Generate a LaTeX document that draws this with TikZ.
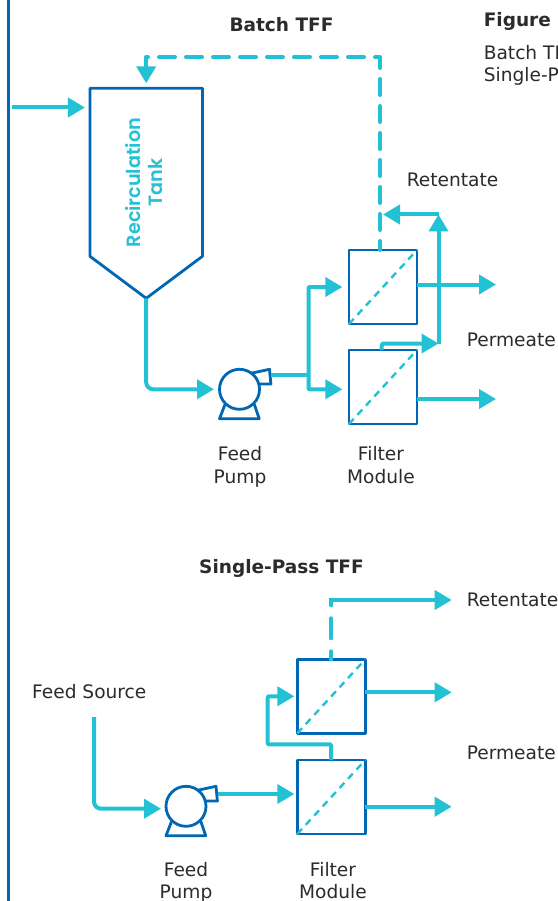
\documentclass[tikz,border=0pt]{standalone}
\usepackage{fontspec}
\setmainfont{DejaVu Sans}
\newfontfamily\tankfont{Poppins SemiBold}
\usetikzlibrary{arrows.meta,calc}
\definecolor{flow}{HTML}{22C1D3}
\definecolor{equip}{HTML}{0067B5}
\definecolor{ink}{HTML}{2B2B2B}
\newcommand{\pumpbody}[1]{%
  \begin{scope}[shift={(#1.center)}]
    \draw[equipline] (11.4,-16) -- (30,-20) -- (31.4,-5.3) -- (19,-5.3);
    \draw[equipline] (-14.3,14.7) -- (-20,29.4) -- (19.7,29.4) -- (14.7,14.7);
  \end{scope}}
\tikzset{
  equipline/.style={draw=equip,line width=2.8pt,line join=round},
  pipe/.style={draw=flow,line width=4pt,line join=round},
  arrowpipe/.style={pipe,-{Triangle[length=17pt,width=19pt]}},
  dashpipe/.style={pipe,dash pattern=on 16pt off 11pt,dash phase=7pt,line cap=round},
  filterbox/.style={equipline,rectangle,minimum width=68pt,minimum height=74pt,inner sep=0pt,outer sep=0pt},
  pumpcirc/.style={equipline,circle,minimum size=40pt,inner sep=0pt,outer sep=0pt},
  tankbox/.style={rectangle,minimum width=112.5pt,minimum height=210pt,inner sep=0pt,outer sep=0pt},
  membrane/.style={draw=flow,line width=2.4pt,dash pattern=on 7pt off 5.5pt},
  txt/.style={font=\fontsize{18.6}{22.5}\selectfont,text=ink,inner sep=0pt},
  boldtxt/.style={txt,font=\fontsize{18.5}{22.5}\selectfont\bfseries}
}
\begin{document}
\begin{tikzpicture}[x=1pt,y=-1pt]
\useasboundingbox (0,0) rectangle (557,901);
\clip (0,0) rectangle (557,901);
\fill[white] (0,0) rectangle (557,901);
\coordinate (frameT) at (8.5,0);
\coordinate (frameB) at (8.5,901);
\draw[draw=equip,line width=2.8pt] (frameT) -- (frameB);

% Batch TFF equipment
\node[tankbox] (tank) at (146.2,193.3) {};
\draw[equipline] (tank.north west) -- (tank.north east) -- ($(tank.south east)+(0,-42)$) -- (tank.south) -- ($(tank.south west)+(0,-42)$) -- cycle;
\node[rotate=90,align=center,text=flow,inner sep=0pt,font=\tankfont\fontsize{19.2}{22.5}\selectfont] (tanklabel) at (144.2,182.5) {Recirculation\\Tank};
\node[pumpcirc] (pumpA) at (239.5,389.3) {};
\pumpbody{pumpA}
\node[filterbox] (filA) at (383,287) {};
\node[filterbox] (filB) at (383,387) {};
\draw[membrane] (filA.south west) -- (filA.north east);
\draw[membrane] (filB.south west) -- (filB.north east);

% Batch TFF connectors
\coordinate (inA) at (12,107.5);
\coordinate (topA) at (380,57);
\coordinate (pumpoutA) at (271,375);
\coordinate (splitA) at (308.5,375);
\coordinate (outA1) at (496,284.5);
\coordinate (outA2) at (496,399);
\coordinate (riseA) at (438.5,343.5);
\coordinate (retA) at (438.5,214.5);
\draw[arrowpipe,shorten >=5pt] (inA) -- (inA -| tank.west);
\draw[dashpipe,-{Triangle[length=17pt,width=19pt]},shorten >=5pt] (topA |- filA.north) -- (topA) -| (tank.north);
\draw[arrowpipe,rounded corners=7pt,shorten >=5.5pt] (tank.south) |- (pumpA.west);
\draw[pipe] (pumpoutA) -- (splitA);
\draw[arrowpipe,rounded corners=1pt,shorten >=6.7pt] (splitA) |- (filA.west);
\draw[arrowpipe,rounded corners=1pt,shorten >=6.7pt] (splitA) |- (filB.west |- pumpA.center);
\draw[arrowpipe] (filA.east |- outA1) -- (outA1);
\draw[arrowpipe] (filB.east |- outA2) -- (outA2);
\draw[arrowpipe,rounded corners=2pt] (381.7,350) |- (riseA);
\draw[arrowpipe] (riseA) -- (retA);
\draw[arrowpipe,shorten >=-0.5pt] (retA) -- (383.5,214.5);

% Single-Pass TFF equipment
\node[pumpcirc] (pumpB) at (186,806.3) {};
\pumpbody{pumpB}
\node[filterbox] (filC) at (331.3,696.3) {};
\node[filterbox] (filD) at (331.3,797) {};
\draw[membrane] (filC.south west) -- (filC.north east);
\draw[membrane] (filD.south west) -- (filD.north east);

% Single-Pass TFF connectors
\coordinate (srcB) at (94,717);
\coordinate (retB) at (451.7,600);
\coordinate (bendB) at (331,600);
\coordinate (linkB) at (267.7,744.3);
\coordinate (pumpoutB) at (218,794);
\draw[arrowpipe,rounded corners=7pt,shorten >=5pt] (srcB) |- (pumpB.west |- 0,808.7);
\draw[arrowpipe,shorten >=3pt] (pumpoutB) -- (filD.west |- pumpoutB);
\coordinate (outB1) at (451.7,692.3);
\coordinate (outB2) at (451.7,806.7);
\draw[arrowpipe] (filC.east |- outB1) -- (outB1);
\draw[arrowpipe] (filD.east |- outB2) -- (outB2);
\draw[pipe,line cap=round,dash pattern=on 8pt off 13pt on 20pt off 13pt] (bendB |- filC.north) -- (bendB);
\draw[arrowpipe] ($(bendB)+(-2,0)$) -- (retB);
\draw[pipe,rounded corners=1pt,-{Triangle[length=17pt,width=19pt]},shorten >=3pt] (bendB |- filD.north) |- (linkB) |- (filC.west);

% Labels
\node[boldtxt,anchor=base] (titleA) at (281.5,31.3) {Batch TFF};
\node[boldtxt,anchor=base west] (figure) at (483.6,26.3) {Figure};
\node[txt,anchor=base west] (caption1) at (483.6,59.6) {Batch TFF};
\node[txt,anchor=base west] (caption2) at (483.6,81.3) {Single-Pass};
\node[txt,anchor=base west] (retlabelA) at (406.6,186.4) {Retentate};
\node[txt,anchor=base west] (permlabelA) at (466.6,346.3) {Permeate};
\node[txt,anchor=base] (pumplabelA1) at (240,460.5) {Feed};
\node[txt,anchor=base] (pumplabelA2) at (240,483) {Pump};
\node[txt,anchor=base] (fillabelA1) at (381,460.5) {Filter};
\node[txt,anchor=base] (fillabelA2) at (381,483) {Module};
\node[boldtxt,anchor=base] (titleB) at (281.5,573) {Single-Pass TFF};
\node[txt,anchor=base west] (srclabel) at (32,698) {Feed Source};
\node[txt,anchor=base west] (retlabelB) at (466.6,606.7) {Retentate};
\node[txt,anchor=base west] (permlabelB) at (466.6,759) {Permeate};
\node[txt,anchor=base] (pumplabelB1) at (186,876) {Feed};
\node[txt,anchor=base] (pumplabelB2) at (186,898) {Pump};
\node[txt,anchor=base] (fillabelB1) at (333,876) {Filter};
\node[txt,anchor=base] (fillabelB2) at (333,898) {Module};
\end{tikzpicture}
\end{document}
